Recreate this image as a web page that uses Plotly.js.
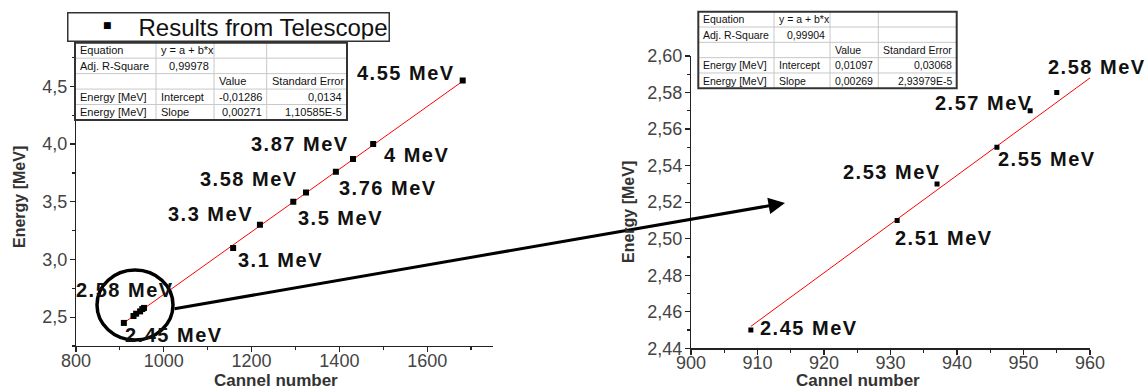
<!DOCTYPE html>
<html><head><meta charset="utf-8">
<script src="https://cdn.plot.ly/plotly-3.0.1.min.js"></script>
<style>
html,body{margin:0;padding:0;background:#fff;}
</style>
</head><body>
<div id="chart" style="width:1146px;height:391px;"></div>
<script>
// ---- data ----
const leftChannels = [909, 931, 937, 946, 951, 955, 1158, 1219, 1295, 1324, 1392, 1431, 1477, 1681];
const leftEnergies = [2.45, 2.51, 2.53, 2.55, 2.57, 2.58, 3.1, 3.3, 3.5, 3.58, 3.76, 3.87, 4.0, 4.55];
const leftLabels   = ['2.45 MeV', '', '', '', '', '2.58 MeV', '3.1 MeV', '3.3 MeV', '3.5 MeV', '3.58 MeV', '3.76 MeV', '3.87 MeV', '4 MeV', '4.55 MeV'];
const rightChannels = [909, 931, 937, 946, 951, 955];
const rightEnergies = [2.45, 2.51, 2.53, 2.55, 2.57, 2.58];
const rightLabels   = ['2.45 MeV', '2.51 MeV', '2.53 MeV', '2.55 MeV', '2.57 MeV', '2.58 MeV'];
const leftFitX = [907, 1681];
const leftFitY = [2.445, 4.545];
const rightFitX = [909, 960];
const rightFitY = [2.452, 2.588];
const legendName = 'Results from Telescope';
const xTitle = 'Cannel number';
const yTitle = 'Energy [MeV]';
const leftTableRows = [
  ['Equation', 'y = a + b*x', '', ''],
  ['Adj. R-Square', '0,99978', '', ''],
  ['', '', 'Value', 'Standard Error'],
  ['Energy [MeV]', 'Intercept', '-0,01286', '0,0134'],
  ['Energy [MeV]', 'Slope', '0,00271', '1,10585E-5']
];
const rightTableRows = [
  ['Equation', 'y = a + b*x', '', ''],
  ['Adj. R-Square', '0,99904', '', ''],
  ['', '', 'Value', 'Standard Error'],
  ['Energy [MeV]', 'Intercept', '0,01097', '0,03068'],
  ['Energy [MeV]', 'Slope', '0,00269', '2,93979E-5']
];

// ---- layout helpers ----
const W = 1146, H = 391;
const px = v => v / W;
const py = v => (H - v) / H;
const FONT = 'Liberation Sans, Arial, sans-serif';
const leftShift  = [[50,-12],[0,0],[0,0],[0,0],[0,0],[-19,18],[47,-12],[-49,11],[47,-16],[-57,14],[52,-16],[-53,15],[43,-11],[-57,8]];
const rightShift = [[58,2],[47,-18],[-45,12],[50,-12],[-46,8],[40,26]];
const tableAlign = [
  ['L','L','L','L'],
  ['L','R','L','L'],
  ['L','L','L','L'],
  ['L','L','R','R'],
  ['L','L','R','R']
];
const leftTableBox  = {cols:[75, 156, 214, 266.7, 347], top:42.7, rowH:15.46, font:11};
const rightTableBox = {cols:[698.3, 774, 830, 878.3, 956.7], top:11.7, rowH:15.32, font:10.5};

const traces = [
  {type:'scatter', mode:'lines', x:leftFitX, y:leftFitY, xaxis:'x', yaxis:'y',
   line:{color:'#ff0000', width:1}, showlegend:false, hoverinfo:'skip'},
  {type:'scatter', mode:'markers', x:leftChannels, y:leftEnergies, xaxis:'x', yaxis:'y',
   name:legendName, marker:{symbol:'square', size:6, color:'#000'}, showlegend:false},
  {type:'scatter', mode:'lines', x:rightFitX, y:rightFitY, xaxis:'x2', yaxis:'y2',
   line:{color:'#ff0000', width:1}, showlegend:false, hoverinfo:'skip'},
  {type:'scatter', mode:'markers', x:rightChannels, y:rightEnergies, xaxis:'x2', yaxis:'y2',
   name:legendName, marker:{symbol:'square', size:5, color:'#000'}, showlegend:false}
];

const axisCommon = {
  showline:true, linecolor:'#222', linewidth:1.2, ticks:'outside', ticklen:5, tickwidth:1.2, tickcolor:'#222',
  showgrid:false, zeroline:false, fixedrange:true,
  tickfont:{family:FONT, size:18, color:'#444'}
};

const annotations = [];
const shapes = [];
const spaced = t => '<b><span style="letter-spacing:1.5px">' + t + '</span></b>';
const labelFont = {family:FONT, size:20, color:'#111'};
leftLabels.forEach((t, i) => {
  if (!t) return;
  annotations.push({xref:'x', yref:'y', x:leftChannels[i], y:leftEnergies[i], text:spaced(t), showarrow:false,
    xanchor:'center', yanchor:'middle', xshift:leftShift[i][0], yshift:leftShift[i][1], font:labelFont});
});
rightLabels.forEach((t, i) => {
  annotations.push({xref:'x2', yref:'y2', x:rightChannels[i], y:rightEnergies[i], text:spaced(t), showarrow:false,
    xanchor:'center', yanchor:'middle', xshift:rightShift[i][0], yshift:rightShift[i][1], font:labelFont});
});
// zoom arrow
annotations.push({xref:'paper', yref:'paper', x:px(785), y:py(203), ax:-612, ay:106, text:'', showarrow:true,
  arrowhead:2, arrowsize:1.1, arrowwidth:3, arrowcolor:'#000', standoff:0, startstandoff:0});
// axis titles
const titleFont = {family:FONT, size:17, color:'#333'};
const yTitleFont = {family:FONT, size:16, color:'#333'};
const C = {xanchor:'center', yanchor:'middle', showarrow:false, xref:'paper', yref:'paper'};
annotations.push(Object.assign({x:px(276), y:py(380.5), text:'<b>'+xTitle+'</b>', font:titleFont}, C));
annotations.push(Object.assign({x:px(858), y:py(380.5), text:'<b>'+xTitle+'</b>', font:titleFont}, C));
annotations.push(Object.assign({x:px(19), y:py(197), text:'<b>'+yTitle+'</b>', textangle:-90, font:yTitleFont}, C));
annotations.push(Object.assign({x:px(628), y:py(212), text:'<b>'+yTitle+'</b>', textangle:-90, font:yTitleFont}, C));
// legend box
annotations.push({xref:'paper', yref:'paper', x:px(67), y:py(12), xanchor:'left', yanchor:'top', width:318, height:25,
  align:'right', valign:'middle', borderpad:1, bordercolor:'#333', borderwidth:1.5, bgcolor:'#fff',
  text:legendName, showarrow:false, font:{family:FONT, size:24, color:'#111'}});
annotations.push(Object.assign({x:px(107), y:py(25.5), text:'■', font:{family:'DejaVu Sans', size:9, color:'#000'}}, C));

// fit tables
function buildTable(rows, box) {
  const c = box.cols, nR = rows.length;
  const bottom = box.top + nR * box.rowH;
  for (let r = 1; r < nR; r++) {
    const yy = box.top + r * box.rowH;
    shapes.push({type:'line', xref:'paper', yref:'paper', x0:px(c[0]), x1:px(c[c.length-1]), y0:py(yy), y1:py(yy), line:{color:'#c8c8c8', width:1}});
  }
  for (let k = 1; k < c.length - 1; k++) {
    shapes.push({type:'line', xref:'paper', yref:'paper', x0:px(c[k]), x1:px(c[k]), y0:py(box.top), y1:py(bottom), line:{color:'#c8c8c8', width:1}});
  }
  shapes.push({type:'rect', xref:'paper', yref:'paper', x0:px(c[0]), x1:px(c[c.length-1]), y0:py(bottom), y1:py(box.top), line:{color:'#333', width:2}});
  rows.forEach((row, r) => {
    row.forEach((t, k) => {
      if (!t) return;
      const right = tableAlign[r][k] === 'R';
      annotations.push({xref:'paper', yref:'paper', x:px(right ? c[k+1] - 3 : c[k] + 3), y:py(box.top + (r + 0.5) * box.rowH),
        xanchor:right ? 'right' : 'left', yanchor:'middle', text:t, showarrow:false,
        font:{family:FONT, size:box.font, color:'#111'}});
    });
  });
}
buildTable(leftTableRows, leftTableBox);
buildTable(rightTableRows, rightTableBox);

// zoom circle
shapes.push({type:'circle', xref:'paper', yref:'paper', x0:px(97), x1:px(173), y0:py(340), y1:py(270), line:{color:'#000', width:3.5}});

const xStand = {ticklabelstandoff:-7};
const yStand = {ticklabelstandoff:-1};
const layout = {
  width:W, height:H, margin:{l:0, r:0, t:0, b:0}, paper_bgcolor:'#fff', plot_bgcolor:'#fff',
  separators:',.', font:{family:FONT}, showlegend:false,
  xaxis:Object.assign({}, axisCommon, xStand, {domain:[px(76), px(493)], range:[800,1750], tick0:800, dtick:200,
    minor:{dtick:100, ticks:'outside', ticklen:3, tickcolor:'#222'}, anchor:'y'}),
  yaxis:Object.assign({}, axisCommon, yStand, {domain:[py(346), py(57.5)], range:[2.25,4.75], tick0:2.5, dtick:0.5, tickformat:'.1f',
    minor:{dtick:0.25, ticks:'outside', ticklen:3, tickcolor:'#222'}, anchor:'x'}),
  xaxis2:Object.assign({}, axisCommon, xStand, {domain:[px(691), px(1090)], range:[900,960], tick0:900, dtick:10,
    minor:{dtick:5, ticks:'outside', ticklen:3, tickcolor:'#222'}, anchor:'y2'}),
  yaxis2:Object.assign({}, axisCommon, yStand, {domain:[py(348.3), py(56)], range:[2.44,2.60], tick0:2.44, dtick:0.02, tickformat:'.2f',
    minor:{dtick:0.01, ticks:'outside', ticklen:3, tickcolor:'#222'}, anchor:'x2'}),
  shapes:shapes,
  annotations:annotations
};

Plotly.newPlot('chart', traces, layout, {displayModeBar:false, staticPlot:true});
</script>
</body></html>
